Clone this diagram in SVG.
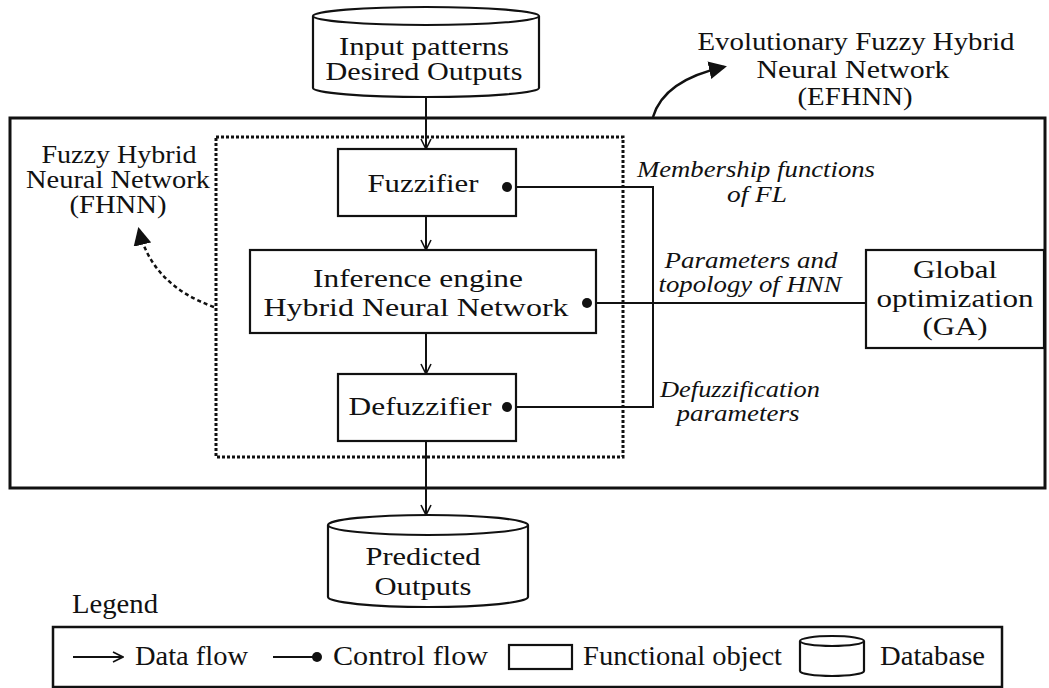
<svg xmlns="http://www.w3.org/2000/svg" width="1049" height="688" viewBox="0 0 1049 688">
<style>
  text { font-family: "Liberation Serif", "Times New Roman", serif; font-size: 25px; fill: #111; }
  .it { font-style: italic; font-size: 23px; }
  .lg { font-size: 28px; }
  .box { fill: #fff; stroke: #111; stroke-width: 2.2; }
  .ln { fill: none; stroke: #111; stroke-width: 2; }
  .dot { fill: #111; }
</style>
<defs>
  <marker id="open" viewBox="0 0 12 12" refX="11" refY="6" markerWidth="12" markerHeight="12" markerUnits="userSpaceOnUse" orient="auto">
    <path d="M1,1 L11,6 L1,11" fill="none" stroke="#111" stroke-width="1.6"/>
  </marker>
  <marker id="solid" viewBox="0 0 12 12" refX="10" refY="6" markerWidth="18" markerHeight="18" markerUnits="userSpaceOnUse" orient="auto">
    <path d="M0,0 L12,6 L0,12 Z" fill="#111"/>
  </marker>
</defs>

<g id="efhnn-frame">
  <rect x="10" y="118" width="1035" height="370" fill="none" stroke="#111" stroke-width="3"/>
</g>
<g id="fhnn-frame">
  <rect x="216" y="137" width="407" height="320" fill="none" stroke="#111" stroke-width="3" stroke-dasharray="3,2"/>
</g>

<g id="connectors">
  <line class="ln" x1="426" y1="97" x2="426" y2="149" marker-end="url(#open)"/>
  <line class="ln" x1="426" y1="216" x2="426" y2="250" marker-end="url(#open)"/>
  <line class="ln" x1="426" y1="333" x2="426" y2="374" marker-end="url(#open)"/>
  <line class="ln" x1="426" y1="441" x2="426" y2="515" marker-end="url(#open)"/>
  <polyline class="ln" points="507,187 653,187 653,407 507,407"/>
  <line class="ln" x1="587" y1="303" x2="866" y2="303"/>
  <path d="M653,117 Q664,80 724,67" fill="none" stroke="#111" stroke-width="2.5" marker-end="url(#solid)"/>
  <path d="M214,307 Q152,285 139,230" fill="none" stroke="#111" stroke-width="2.5" stroke-dasharray="4,3" marker-end="url(#solid)"/>
</g>

<g id="input-db">
  <path class="box" d="M313,16 A113,9 0 0 1 539,16 V88 A113,9 0 0 1 313,88 Z"/>
  <path class="ln" d="M313,16 A113,9 0 0 0 539,16"/>
  <text x="424" y="55" text-anchor="middle" textLength="170" lengthAdjust="spacingAndGlyphs">Input patterns</text>
  <text x="424" y="80" text-anchor="middle" textLength="197" lengthAdjust="spacingAndGlyphs">Desired Outputs</text>
</g>

<g id="efhnn-label">
  <text x="856" y="50" text-anchor="middle" textLength="317" lengthAdjust="spacingAndGlyphs">Evolutionary Fuzzy Hybrid</text>
  <text x="853" y="78" text-anchor="middle" textLength="193" lengthAdjust="spacingAndGlyphs">Neural Network</text>
  <text x="855" y="105" text-anchor="middle" textLength="115" lengthAdjust="spacingAndGlyphs">(EFHNN)</text>
</g>

<g id="fhnn-label">
  <text x="119" y="163" text-anchor="middle" textLength="155" lengthAdjust="spacingAndGlyphs">Fuzzy Hybrid</text>
  <text x="118" y="188" text-anchor="middle" textLength="184" lengthAdjust="spacingAndGlyphs">Neural Network</text>
  <text x="118" y="213" text-anchor="middle" textLength="97" lengthAdjust="spacingAndGlyphs">(FHNN)</text>
</g>

<g id="fuzzifier">
  <rect class="box" x="338" y="149" width="178" height="67"/>
  <text x="423" y="192" text-anchor="middle" textLength="111" lengthAdjust="spacingAndGlyphs">Fuzzifier</text>
  <circle class="dot" cx="507" cy="187" r="5"/>
</g>

<g id="inference">
  <rect class="box" x="250" y="250" width="346" height="83"/>
  <text x="418" y="287" text-anchor="middle" textLength="210" lengthAdjust="spacingAndGlyphs">Inference engine</text>
  <text x="416" y="316" text-anchor="middle" textLength="305" lengthAdjust="spacingAndGlyphs">Hybrid Neural Network</text>
  <circle class="dot" cx="587" cy="303" r="5"/>
</g>

<g id="defuzzifier">
  <rect class="box" x="338" y="374" width="178" height="67"/>
  <text x="420" y="415" text-anchor="middle" textLength="143" lengthAdjust="spacingAndGlyphs">Defuzzifier</text>
  <circle class="dot" cx="507" cy="407" r="5"/>
</g>

<g id="global-opt">
  <rect class="box" x="866" y="250" width="178" height="98"/>
  <text x="955" y="278" text-anchor="middle" textLength="84" lengthAdjust="spacingAndGlyphs">Global</text>
  <text x="955" y="307" text-anchor="middle" textLength="157" lengthAdjust="spacingAndGlyphs">optimization</text>
  <text x="955" y="335" text-anchor="middle" textLength="65" lengthAdjust="spacingAndGlyphs">(GA)</text>
</g>

<g id="ctrl-labels">
  <text class="it" x="756" y="177" text-anchor="middle" textLength="238" lengthAdjust="spacingAndGlyphs">Membership functions</text>
  <text class="it" x="757" y="202" text-anchor="middle" textLength="60" lengthAdjust="spacingAndGlyphs">of FL</text>
  <text class="it" x="751" y="268" text-anchor="middle" textLength="173" lengthAdjust="spacingAndGlyphs">Parameters and</text>
  <text class="it" x="750" y="292" text-anchor="middle" textLength="183" lengthAdjust="spacingAndGlyphs">topology of HNN</text>
  <text class="it" x="740" y="397" text-anchor="middle" textLength="160" lengthAdjust="spacingAndGlyphs">Defuzzification</text>
  <text class="it" x="738" y="421" text-anchor="middle" textLength="123" lengthAdjust="spacingAndGlyphs">parameters</text>
</g>

<g id="predicted-db">
  <path class="box" d="M328,525 A100,10 0 0 1 528,525 V597 A100,10 0 0 1 328,597 Z"/>
  <path class="ln" d="M328,525 A100,10 0 0 0 528,525"/>
  <text x="423" y="565" text-anchor="middle" textLength="115" lengthAdjust="spacingAndGlyphs">Predicted</text>
  <text x="423" y="595" text-anchor="middle" textLength="97" lengthAdjust="spacingAndGlyphs">Outputs</text>
</g>

<g id="legend">
  <text class="lg" x="72" y="613" textLength="86" lengthAdjust="spacingAndGlyphs">Legend</text>
  <rect x="53" y="627" width="949" height="60" fill="#fff" stroke="#111" stroke-width="2.5"/>
  <line class="ln" x1="73" y1="657" x2="123" y2="657" marker-end="url(#open)"/>
  <text class="lg" x="135" y="665" textLength="113" lengthAdjust="spacingAndGlyphs">Data flow</text>
  <line class="ln" x1="273" y1="657" x2="316" y2="657"/>
  <circle class="dot" cx="317" cy="657" r="5"/>
  <text class="lg" x="333" y="665" textLength="155" lengthAdjust="spacingAndGlyphs">Control flow</text>
  <rect class="box" x="509" y="645" width="63" height="24"/>
  <text class="lg" x="583" y="665" textLength="199" lengthAdjust="spacingAndGlyphs">Functional object</text>
  <path class="box" d="M800,641 A32,5 0 0 1 864,641 V671 A32,5 0 0 1 800,671 Z"/>
  <path class="ln" d="M800,641 A32,5 0 0 0 864,641"/>
  <text class="lg" x="880" y="665" textLength="105" lengthAdjust="spacingAndGlyphs">Database</text>
</g>
</svg>
